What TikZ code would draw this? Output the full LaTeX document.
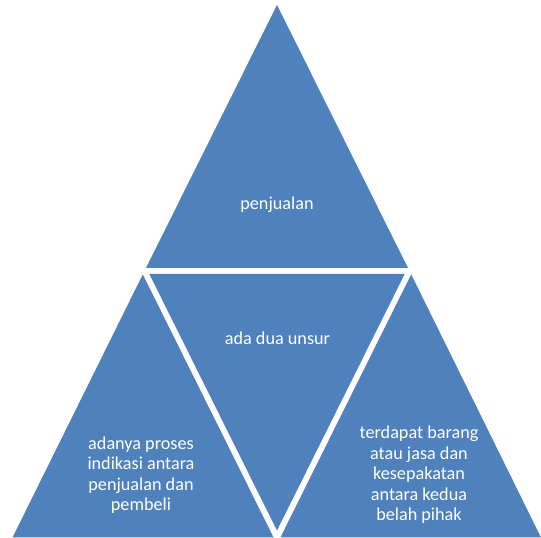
\documentclass[tikz,border=0pt]{standalone}
\usepackage{fontspec}
\setmainfont{Carlito}
\definecolor{segblue}{HTML}{4F81BD}
\tikzset{
  seg/.style={fill=segblue, draw=none},
  lbl/.style={text=white, align=center, font=\fontsize{18.2}{20.5}\selectfont, inner sep=0pt}
}
\begin{document}
\begin{tikzpicture}[x=1pt,y=1pt]
\useasboundingbox (0,0) rectangle (541,538);
% four segments of the pyramid
\fill[seg] (277,533) -- (146,270) -- (408,270) -- cycle;
\fill[seg] (142.8,263.6) -- (12.5,0.5) -- (273.6,0.5) -- cycle;
\fill[seg] (411.2,263.6) -- (280.4,0.5) -- (541,0.5) -- cycle;
\fill[seg] (149.3,264) -- (404.7,264) -- (277,7.5) -- cycle;
% labels
\node[lbl] (top) at (277,333) {penjualan};
\node[lbl] (mid) at (277.5,200) {ada dua unsur};
\node[lbl] (left) at (141,63) {adanya proses\\indikasi antara\\penjualan dan\\pembeli};
\node[lbl] (right) at (419,63) {terdapat barang\\atau jasa dan\\kesepakatan\\antara kedua\\belah pihak};
\end{tikzpicture}
\end{document}
